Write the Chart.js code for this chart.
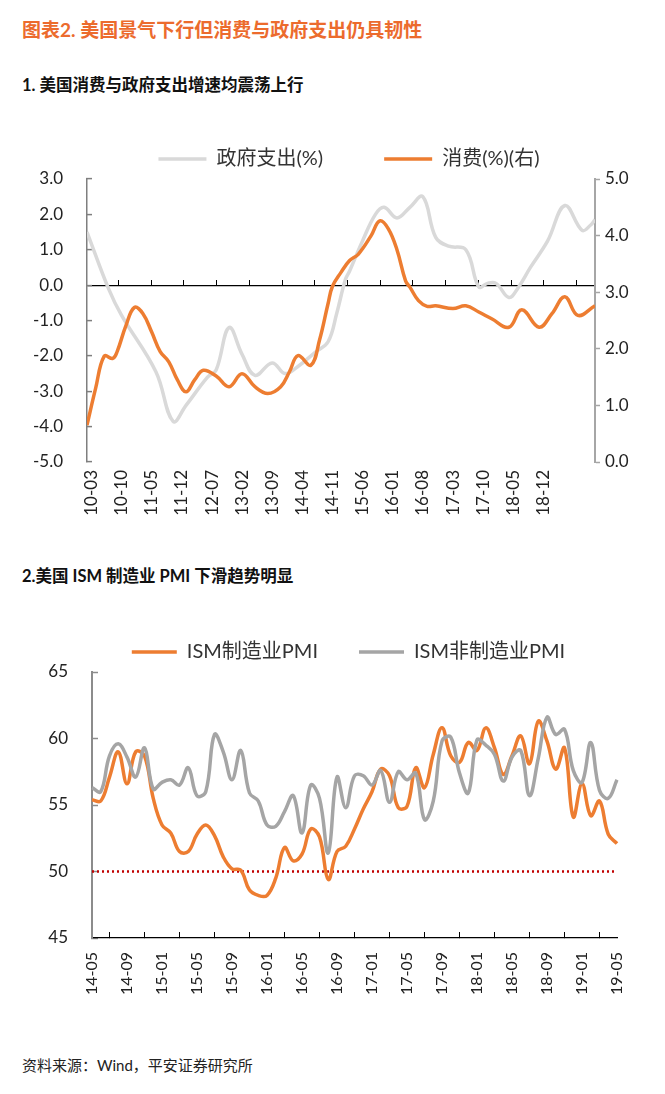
<!DOCTYPE html>
<html>
<head>
<meta charset="utf-8">
<script src="https://cdn.jsdelivr.net/npm/chart.js@4.4.1/dist/chart.umd.min.js"></script>
<style>
  body { margin: 0; width: 665px; height: 1094px; background: #fff; position: relative; overflow: hidden;
         font-family: Lato, 'Noto Sans CJK SC', sans-serif; }
  .t { position: absolute; left: 22px; white-space: nowrap; line-height: 1; }
  #title { top: 20px; font-size: 19px; font-weight: bold; color: #EC6B2D; }
  #sub1 { top: 77px; font-size: 16.5px; font-weight: bold; color: #111; }
  #sub2 { top: 568px; font-size: 16.5px; font-weight: bold; color: #111; }
  #src { top: 1058px; font-size: 15px; color: #222; }
  .box { position: absolute; left: 0; width: 665px; }
  #box1 { top: 88px; height: 450px; }
  #box2 { top: 601px; height: 414px; }
</style>
</head>
<body>
<div class="t" id="title">图表2. 美国景气下行但消费与政府支出仍具韧性</div>
<div class="t" id="sub1">1. 美国消费与政府支出增速均震荡上行</div>
<div class="box" id="box1"><canvas id="c1"></canvas></div>
<div class="t" id="sub2">2.美国 ISM 制造业 PMI 下滑趋势明显</div>
<div class="box" id="box2"><canvas id="c2"></canvas></div>
<div class="t" id="src">资料来源：Wind，平安证券研究所</div>

<script>
// chart 1: x is months since 2010-03
const consTickLabels = ['10-03', '10-10', '11-05', '11-12', '12-07', '13-02', '13-09', '14-04',
                        '14-11', '15-06', '16-01', '16-08', '17-03', '17-10', '18-05', '18-12'];
const consTickStep = 7;
const consLastMonth = 118;
// small tick marks sitting on the zero line
const zeroTickStart = 7.3;
const zeroTickStep = 7.6;
const zeroTickCount = 15;

const govMonth = [0, 5, 8, 16, 20, 23, 28, 30, 33, 36, 39, 43, 46, 49, 53, 56, 58, 60, 61, 64, 67, 69,
                  72, 75, 78, 81, 84, 88, 91, 93, 95, 98, 100, 103, 107, 111, 115, 117, 118];
const govValue = [1.5, -0.1, -0.85, -2.45, -3.85, -3.4, -2.6, -2.4, -1.2, -1.95, -2.55, -2.2, -2.5, -2.3,
                  -1.9, -1.6, -0.8, 0.15, 0.4, 1.25, 2.0, 2.2, 1.9, 2.2, 2.5, 1.35, 1.1, 1.0, -0.05, 0.05,
                  0.05, -0.35, -0.1, 0.5, 1.25, 2.25, 1.55, 1.7, 1.85];

const consMonth = [0, 2, 4, 6, 7, 9, 11, 13, 15, 17, 19, 21, 23, 25, 27, 30, 33, 36, 39, 42, 45, 47, 49,
                   52, 54, 56, 57, 59, 61, 63, 66, 68, 70, 72, 74, 75, 77, 79, 81, 85, 88, 91, 94, 98,
                   101, 105, 108, 111, 114, 118];
const consValue = [0.65, 1.3, 1.87, 1.83, 1.95, 2.4, 2.73, 2.62, 2.3, 1.95, 1.77, 1.45, 1.24, 1.45, 1.62,
                   1.52, 1.33, 1.56, 1.33, 1.21, 1.33, 1.59, 1.88, 1.71, 2.15, 2.8, 3.1, 3.35, 3.56, 3.67,
                   4.0, 4.26, 4.12, 3.75, 3.2, 3.09, 2.85, 2.75, 2.76, 2.71, 2.76, 2.65, 2.53, 2.38, 2.69,
                   2.38, 2.62, 2.92, 2.59, 2.76];

// chart 2
const pmiMonths = ['14-05', '14-06', '14-07', '14-08', '14-09', '14-10', '14-11', '14-12',
  '15-01', '15-02', '15-03', '15-04', '15-05', '15-06', '15-07', '15-08', '15-09', '15-10', '15-11', '15-12',
  '16-01', '16-02', '16-03', '16-04', '16-05', '16-06', '16-07', '16-08', '16-09', '16-10', '16-11', '16-12',
  '17-01', '17-02', '17-03', '17-04', '17-05', '17-06', '17-07', '17-08', '17-09', '17-10', '17-11', '17-12',
  '18-01', '18-02', '18-03', '18-04', '18-05', '18-06', '18-07', '18-08', '18-09', '18-10', '18-11', '18-12',
  '19-01', '19-02', '19-03', '19-04', '19-05'];
const ismMfg = [55.4, 55.3, 57.1, 59.0, 56.6, 59.0, 58.7, 55.5,
  53.5, 52.9, 51.5, 51.5, 52.8, 53.5, 52.7, 51.1, 50.2, 50.1, 48.6, 48.2,
  48.2, 49.5, 51.8, 50.8, 51.3, 53.2, 52.6, 49.4, 51.5, 51.9, 53.2, 54.7,
  56.0, 57.7, 57.2, 54.8, 54.9, 57.8, 56.3, 58.8, 60.8, 58.7, 58.2, 59.7,
  59.1, 60.8, 59.3, 57.3, 58.7, 60.2, 58.1, 61.3, 59.8, 57.7, 59.3, 54.1,
  56.6, 54.2, 55.3, 52.8, 52.1];
const ismNonMfg = [56.3, 56.0, 58.7, 59.6, 58.6, 57.1, 59.3, 56.2,
  56.7, 56.9, 56.5, 57.8, 55.7, 56.0, 60.3, 59.0, 56.9, 59.1, 55.9, 55.3,
  53.5, 53.4, 54.5, 55.7, 52.9, 56.5, 55.5, 51.4, 57.1, 54.8, 57.2, 57.2,
  56.5, 57.6, 55.2, 57.5, 56.9, 57.4, 53.9, 55.3, 59.8, 60.1, 57.4, 55.9,
  59.9, 59.5, 58.8, 56.8, 58.6, 59.1, 55.7, 58.5, 61.6, 60.3, 60.7, 57.6,
  56.7, 59.7, 56.1, 55.5, 56.9];
const pmiBoomBust = 50;
const pmiTickEvery = 4;

const ORANGE = '#ED7D31';
Chart.defaults.font.family = "Lato, 'Noto Sans CJK SC', sans-serif";
Chart.defaults.color = '#222';

const toPoints = (xs, ys) => xs.map((x, i) => ({ x: x, y: ys[i] }));

new Chart(document.getElementById('c1'), {
  type: 'line',
  data: {
    datasets: [
      {
        label: '政府支出(%)',
        data: toPoints(govMonth, govValue),
        xAxisID: 'x',
        yAxisID: 'y',
        borderColor: '#D9D9D9',
        backgroundColor: '#D9D9D9',
        borderWidth: 3.5,
        pointRadius: 0,
        tension: 0.4,
        order: 1,
      },
      {
        label: '消费(%)(右)',
        data: toPoints(consMonth, consValue),
        xAxisID: 'x',
        yAxisID: 'y2',
        borderColor: ORANGE,
        backgroundColor: ORANGE,
        borderWidth: 3.5,
        pointRadius: 0,
        tension: 0.4,
        order: 0,
      },
    ]
  },
  options: {
    responsive: true,
    maintainAspectRatio: false,
    animation: false,
    layout: { padding: { left: 33, right: 0, top: 0, bottom: 0 } },
    plugins: {
      tooltip: { enabled: false },
      legend: {
        position: 'top',
        labels: {
          usePointStyle: true,
          pointStyle: 'line',
          pointStyleWidth: 48,
          padding: 61,
          color: '#333',
          font: { size: 20 },
          sort: (a, b) => a.datasetIndex - b.datasetIndex,
        }
      }
    },
    scales: {
      x: {
        type: 'linear',
        min: 0,
        max: consLastMonth,
        afterBuildTicks: (s) => { s.ticks = consTickLabels.map((_, i) => ({ value: i * consTickStep })); },
        afterFit: (s) => { s.height = 76; },
        grid: { display: false, drawTicks: false },
        border: { display: false },
        ticks: {
          autoSkip: false,
          minRotation: 90,
          maxRotation: 90,
          padding: 8,
          labelOffset: 4.5,
          font: { size: 17 },
          callback: (v, i) => consTickLabels[i],
        }
      },
      x0: {
        type: 'linear',
        position: { y: 0 },
        min: 0,
        max: consLastMonth,
        afterBuildTicks: (s) => {
          s.ticks = [];
          for (let i = 0; i < zeroTickCount; i++) s.ticks.push({ value: zeroTickStart + i * zeroTickStep });
        },
        ticks: { display: false },
        grid: { drawOnChartArea: false, drawTicks: true, tickLength: -5, tickColor: '#000', tickWidth: 1 },
        border: { display: false },
      },
      y: {
        position: 'left',
        min: -5,
        max: 3,
        afterFit: (s) => { s.width = 54; },
        ticks: { stepSize: 1, padding: 29, font: { size: 17 }, callback: (v) => v.toFixed(1) },
        grid: {
          drawTicks: true,
          tickLength: -5,
          tickColor: '#7F7F7F',
          tickWidth: 1.5,
          lineWidth: 1.2,
          color: (c) => (c.tick && c.tick.value === 0 ? '#000' : 'rgba(0,0,0,0)'),
        },
        border: { color: '#7F7F7F', width: 1.5 },
      },
      y2: {
        position: 'right',
        min: 0,
        max: 5,
        afterFit: (s) => { s.width = 70; },
        ticks: { stepSize: 1, padding: 5, font: { size: 17 }, callback: (v) => v.toFixed(1) },
        grid: { drawOnChartArea: false, drawTicks: true, tickLength: 5, tickColor: '#A6A6A6', tickWidth: 1.5 },
        border: { color: '#A6A6A6', width: 2 },
      }
    }
  }
});

new Chart(document.getElementById('c2'), {
  type: 'line',
  data: {
    labels: pmiMonths,
    datasets: [
      {
        label: 'ISM制造业PMI',
        data: ismMfg,
        borderColor: ORANGE,
        backgroundColor: ORANGE,
        borderWidth: 3.5,
        pointRadius: 0,
        tension: 0.4,
        order: 1,
      },
      {
        label: 'ISM非制造业PMI',
        data: ismNonMfg,
        borderColor: '#A5A5A5',
        backgroundColor: '#A5A5A5',
        borderWidth: 3.5,
        pointRadius: 0,
        tension: 0.4,
        order: 0,
      },
      {
        label: 'boom-bust',
        data: pmiMonths.map(() => pmiBoomBust),
        borderColor: '#C00000',
        borderWidth: 2.5,
        borderDash: [2, 3],
        pointRadius: 0,
        order: 2,
      }
    ]
  },
  options: {
    responsive: true,
    maintainAspectRatio: false,
    animation: false,
    layout: { padding: { left: 32, right: 0, top: 0, bottom: 0 } },
    plugins: {
      tooltip: { enabled: false },
      legend: {
        position: 'top',
        labels: {
          usePointStyle: true,
          pointStyle: 'line',
          pointStyleWidth: 45,
          padding: 41,
          color: '#333',
          font: { size: 20 },
          filter: (item) => item.datasetIndex < 2,
          sort: (a, b) => a.datasetIndex - b.datasetIndex,
        }
      }
    },
    scales: {
      x: {
        offset: false,
        afterFit: (s) => { s.height = 77; },
        grid: { drawOnChartArea: false, drawTicks: true, offset: true, tickLength: -6, tickColor: '#000', tickWidth: 1 },
        border: { color: '#000', width: 1.2 },
        ticks: {
          autoSkip: false,
          minRotation: 90,
          maxRotation: 90,
          padding: 20,
          font: { size: 16 },
          callback: (v, i) => (i % pmiTickEvery === 0 ? pmiMonths[i] : null),
        }
      },
      y: {
        min: 45,
        max: 65,
        afterFit: (s) => { s.width = 60; },
        ticks: { stepSize: 5, padding: 30, font: { size: 17 } },
        grid: { drawOnChartArea: false, drawTicks: true, tickLength: -6, tickColor: '#8C8C8C', tickWidth: 1.5 },
        border: { color: '#8C8C8C', width: 2 },
      },
      y2: {
        position: 'right',
        afterFit: (s) => { s.width = 48; },
        ticks: { display: false },
        grid: { display: false, drawTicks: false },
        border: { display: false },
      }
    }
  }
});
</script>
</body>
</html>
